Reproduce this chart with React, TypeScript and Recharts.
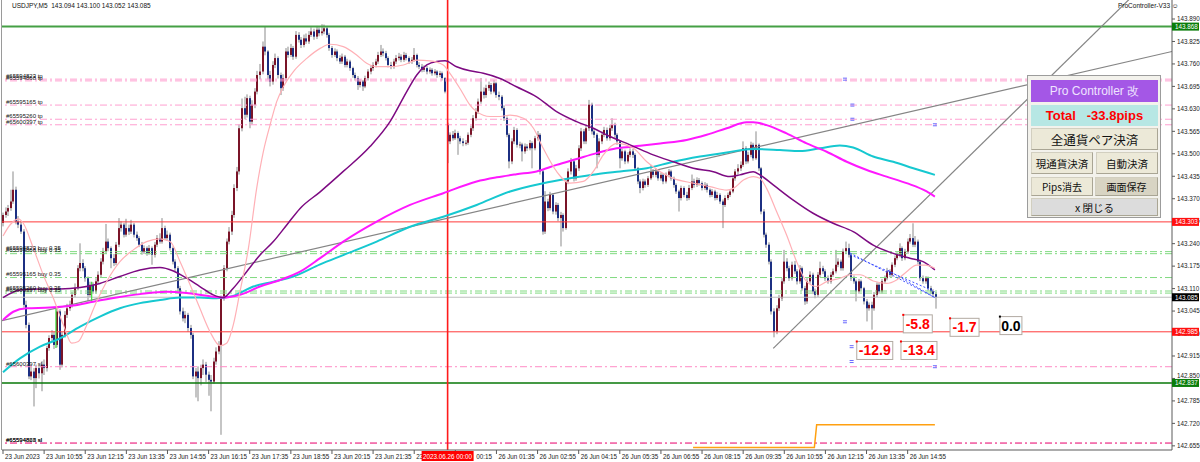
import React from "react";
import {
  ComposedChart,
  Bar,
  Line,
  XAxis,
  YAxis,
  ReferenceLine,
  ReferenceDot,
} from "recharts";

// prices are kept as 0.001 JPY above 142.000; a bar opens at the previous close
const PRICE_BASE = 142;
const fridayOpen = 1300;
const mondayOpen = 1584;

// 23 Jun 09:35 .. 23:55, M5 bars as [high, low, close]
const fridayBars = [
  [1330,1290,1323],[1345,1315,1333],[1352,1320,1343],[1396,1335,1362],[1449,1355,1396],[1405,1296,1304],[1320,1285,1295],[1305,1268,1275],[1282,1055,1063],[1075,995,1005],
  [1012,848,856],[885,845,870],[880,769,851],[890,822,880],[888,850,865],[900,813,890],[905,860,880],[945,870,938],[975,930,967],[990,955,976],
  [985,935,947],[1052,940,1044],[1050,875,890],[985,882,976],[1045,968,1034],[1066,1025,1053],[1075,1045,1063],[1100,1055,1092],[1125,1085,1111],[1178,1105,1169],
  [1241,1160,1184],[1195,1160,1169],[1175,1130,1140],[1145,1073,1092],[1130,1085,1121],[1128,1095,1102],[1140,1096,1131],[1160,1125,1150],[1198,1143,1188],[1228,1180,1217],
  [1297,1210,1246],[1255,1218,1227],[1232,1169,1198],[1210,1175,1184],[1245,1178,1237],[1314,1230,1285],[1305,1275,1295],[1300,1258,1266],[1312,1260,1285],[1295,1265,1275],
  [1309,1268,1295],[1300,1258,1266],[1275,1248,1256],[1262,1230,1237],[1245,1208,1217],[1235,1210,1227],[1232,1205,1213],[1236,1208,1227],[1232,1179,1208],[1245,1200,1237],
  [1265,1230,1256],[1270,1240,1246],[1314,1240,1285],[1292,1250,1256],[1278,1248,1266],[1272,1220,1227],[1232,1180,1188],[1195,1160,1169],[1175,1102,1111],[1118,1035,1044],
  [1055,1015,1024],[1045,1010,1034],[1040,985,996],[1005,965,976],[982,848,856],[880,795,870],[885,784,851],[890,830,880],[905,860,890],[898,840,861],
  [870,800,846],[860,755,841],[910,835,899],[940,890,928],[958,920,947],[1090,687,1082],[1178,1075,1169],[1255,1160,1246],[1288,1238,1275],[1335,1265,1323],
  [1412,1315,1401],[1462,1392,1449],[1585,1440,1574],[1660,1565,1632],[1665,1600,1613],[1672,1605,1661],[1668,1574,1593],[1655,1585,1642],[1690,1632,1680],[1740,1672,1728],
  [1760,1715,1738],[1825,1730,1810],[1867,1785,1796],[1800,1715,1728],[1740,1695,1709],[1768,1700,1757],[1790,1748,1777],[1782,1718,1728],[1735,1670,1690],[1730,1682,1719],
  [1806,1712,1796],[1810,1778,1786],[1818,1780,1806],[1812,1772,1781],[1855,1775,1844],[1852,1822,1830],[1838,1806,1815],[1845,1808,1834],[1848,1818,1825],[1855,1818,1844],
  [1866,1838,1854],[1862,1830,1839],[1870,1832,1859],[1866,1840,1849],[1875,1842,1854],[1874,1846,1863],[1870,1836,1844],[1850,1798,1806],[1812,1778,1786],[1805,1780,1796],
  [1802,1768,1777],[1785,1760,1767],[1790,1760,1781],[1786,1750,1757],[1775,1750,1767],[1772,1740,1748],[1752,1720,1728],[1735,1712,1719],[1725,1685,1699],[1716,1692,1709],
  [1714,1682,1695],[1726,1690,1719],[1745,1712,1738],[1756,1730,1748],[1765,1740,1757],[1775,1750,1767],[1795,1760,1786],[1815,1780,1796],[1805,1782,1791],[1798,1770,1777],
  [1782,1750,1757],[1766,1745,1752],[1775,1746,1767],[1786,1760,1777],[1792,1770,1781],[1788,1765,1772],[1795,1766,1786],[1792,1770,1777],[1782,1760,1767],[1780,1760,1772],
  [1806,1766,1786],[1790,1750,1757],[1765,1745,1752],[1760,1736,1743],[1756,1737,1748],[1754,1730,1738],[1750,1732,1743],[1748,1726,1733],[1745,1727,1738],[1742,1720,1728],
  [1740,1722,1733],[1738,1712,1719],[1722,1675,1680],
];

// 26 Jun 00:00 .. 15:50
const mondayBars = [
  [1590,1473,1536],[1562,1528,1555],[1566,1538,1545],[1570,1540,1560],[1565,1497,1545],[1552,1528,1536],[1545,1522,1531],
  [1540,1524,1532],[1562,1526,1555],[1582,1548,1574],[1612,1566,1603],[1632,1596,1622],[1660,1615,1651],[1719,1645,1680],[1692,1660,1670],[1700,1662,1690],[1709,1682,1699],
  [1705,1672,1680],[1714,1675,1704],[1708,1662,1670],[1680,1655,1665],[1670,1625,1632],[1640,1595,1603],[1608,1548,1555],[1560,1458,1478],[1545,1470,1536],[1578,1528,1569],
  [1574,1518,1526],[1535,1516,1527],[1532,1478,1507],[1530,1500,1521],[1528,1508,1516],[1540,1510,1531],[1536,1458,1516],[1552,1510,1545],[1566,1538,1555],[1560,1440,1449],
  [1455,1266,1275],[1392,1268,1362],[1370,1334,1343],[1390,1336,1381],[1386,1325,1333],[1360,1324,1352],[1358,1305,1314],[1332,1232,1323],[1328,1275,1285],[1428,1280,1420],
  [1458,1412,1449],[1488,1440,1478],[1484,1420,1429],[1468,1422,1458],[1525,1450,1516],[1575,1508,1565],[1572,1528,1536],[1582,1528,1574],[1656,1566,1642],[1648,1556,1565],
  [1575,1546,1555],[1560,1458,1497],[1545,1490,1536],[1565,1528,1555],[1578,1548,1569],[1576,1538,1545],[1584,1538,1574],[1603,1566,1584],[1590,1546,1555],[1560,1526,1536],
  [1540,1458,1487],[1515,1480,1507],[1512,1470,1478],[1505,1472,1497],[1516,1490,1507],[1514,1488,1497],[1502,1450,1458],[1462,1412,1420],[1426,1386,1401],[1428,1394,1420],
  [1426,1402,1410],[1436,1404,1429],[1468,1424,1449],[1456,1432,1439],[1458,1432,1449],[1454,1422,1429],[1446,1422,1439],[1444,1412,1420],[1446,1414,1439],[1456,1432,1449],
  [1454,1422,1429],[1434,1402,1410],[1415,1384,1391],[1396,1333,1372],[1408,1365,1401],[1406,1374,1381],[1390,1364,1372],[1410,1366,1401],[1440,1395,1420],[1428,1402,1410],
  [1432,1404,1424],[1430,1408,1415],[1420,1394,1401],[1418,1395,1410],[1415,1388,1396],[1400,1374,1381],[1398,1375,1391],[1396,1365,1372],[1390,1366,1381],[1386,1355,1362],
  [1368,1285,1352],[1380,1346,1372],[1388,1366,1381],[1398,1375,1391],[1436,1386,1429],[1456,1422,1449],[1470,1440,1458],[1478,1450,1468],[1536,1462,1516],[1522,1470,1478],
  [1506,1472,1497],[1535,1490,1526],[1532,1480,1487],[1565,1482,1526],[1530,1450,1458],[1462,1325,1333],[1340,1258,1266],[1272,1228,1237],[1244,1180,1188],[1195,1035,1044],
  [1053,969,986],[1062,978,1053],[1092,1045,1082],[1140,1074,1131],[1222,1124,1188],[1198,1160,1169],[1176,1132,1140],[1188,1133,1179],[1190,1152,1160],[1166,1122,1131],
  [1178,1124,1169],[1174,1104,1111],[1118,1063,1073],[1140,1066,1131],[1160,1124,1150],[1156,1094,1102],[1110,1082,1092],[1158,1086,1150],[1188,1142,1169],[1176,1152,1160],
  [1166,1132,1140],[1148,1124,1131],[1158,1124,1150],[1168,1144,1160],[1222,1154,1179],[1198,1172,1188],[1194,1162,1169],[1226,1162,1217],[1246,1210,1227],[1240,1200,1208],
  [1212,1132,1140],[1148,1124,1131],[1136,1073,1102],[1138,1095,1131],[1136,1104,1111],[1115,1064,1073],[1080,1015,1053],[1070,1046,1063],[1072,991,1053],[1100,1046,1092],
  [1128,1085,1121],[1126,1095,1102],[1138,1096,1131],[1148,1124,1140],[1170,1134,1160],[1166,1143,1150],[1186,1144,1179],[1206,1172,1198],[1215,1192,1208],[1241,1200,1227],
  [1232,1190,1198],[1225,1192,1217],[1255,1210,1246],[1268,1240,1256],[1299,1230,1237],[1262,1230,1246],[1252,1180,1188],[1194,1132,1140],[1148,1124,1131],[1146,1124,1140],
  [1145,1104,1111],[1118,1095,1102],[1108,1086,1094],[1100,1052,1085],
];

const xTickLabels = [
  "23 Jun 2023", "23 Jun 10:55", "23 Jun 12:15", "23 Jun 13:35", "23 Jun 14:55", "23 Jun 16:15",
  "23 Jun 17:35", "23 Jun 18:55", "23 Jun 20:15", "23 Jun 21:35", "23 Jun 22:55", "26 Jun 00:15",
  "26 Jun 01:35", "26 Jun 02:55", "26 Jun 04:15", "26 Jun 05:35", "26 Jun 06:55", "26 Jun 08:15",
  "26 Jun 09:35", "26 Jun 10:55", "26 Jun 12:15", "26 Jun 13:35", "26 Jun 14:55",
];
const separatorLabel = "2023.06.26 00:00";

const yTicks = [
  143.89, 143.825, 143.76, 143.695, 143.63, 143.565, 143.5, 143.435, 143.37, 143.305,
  143.24, 143.175, 143.11, 143.045, 142.98, 142.915, 142.85, 142.785, 142.72, 142.655,
];

const dayHigh = 143.868;
const dayLow = 142.837;
const redLevels = [143.303, 142.985];
const bidPrice = 143.085;

const tpLevels = [
  { price: 143.716, name: "#65594823 tp" },
  { price: 143.711, name: "#65594868 tp" },
  { price: 143.641, name: "#65595165 tp" },
  { price: 143.6, name: "#65595260 tp" },
  { price: 143.584, name: "#65600397 tp" },
];
const buyLevels = [
  { price: 143.217, name: "#65594823 buy 0.35" },
  { price: 143.211, name: "#65594868 buy 0.35" },
  { price: 143.142, name: "#65595165 buy 0.35" },
  { price: 143.103, name: "#65595260 buy 0.35" },
  { price: 143.097, name: "#65600397 buy 0.35" },
];
const slLevels = [
  { price: 142.884, name: "#65600397 sl" },
  { price: 142.664, name: "#65594868 sl" },
  { price: 142.662, name: "#65594823 sl" },
];

// moving averages: [bar, price]
const pinkMa = [
  [0,143.262],[2.7,143.294],[6,143.312],[7.9,143.299],[11.8,143.227],[15.7,143.149],[19.6,143.082],[23.5,143.005],[26.7,142.952],[29.3,142.957],
  [32.6,143.005],[36.4,143.072],[40.3,143.13],[45.5,143.188],[50.7,143.222],[55.9,143.246],[61.1,143.254],[65,143.246],[68.9,143.188],[72.8,143.121],
  [76.6,143.053],[80.5,142.986],[84.4,142.945],[87,142.952],[89.6,143.005],[92.2,143.101],[95.5,143.227],[98.7,143.4],[101.3,143.506],[103.9,143.583],
  [106.5,143.651],[109.1,143.694],[113,143.738],[118.2,143.776],[123.4,143.805],[127.2,143.817],[132.4,143.81],[137.6,143.786],[141.5,143.762],[145.4,143.752],
  [150.6,143.752],[155.8,143.757],[161,143.771],[166.2,143.769],[171.3,143.757],[173.9,143.733],[177.8,143.689],[181.7,143.641],[184.3,143.622],[189.5,143.608],
  [193.4,143.608],[197.3,143.612],[202.5,143.603],[206.4,143.574],[210.2,143.516],[215.4,143.449],[220.6,143.415],[225.8,143.42],[229.7,143.449],[233.6,143.497],
  [238.8,143.53],[245.3,143.516],[250.5,143.477],[255.6,143.449],[260.8,143.429],[268.6,143.415],[275.1,143.405],[281.6,143.395],[284.2,143.4],[288.1,143.424],
  [292,143.434],[294.5,143.429],[297.1,143.4],[301,143.333],[304.9,143.265],[308.8,143.188],[312.7,143.13],[316.6,143.116],[320.5,143.13],[325.7,143.14],
  [329.6,143.15],[333.5,143.15],[338.6,143.132],[343.8,143.125],[347.7,143.135],[351.6,143.159],[355.5,143.178],[358.8,143.178],[362.6,143.169],
];
const purpleMa = [
  [0,143.084],[6.6,143.106],[14.4,143.109],[22.2,143.109],[30,143.113],[37.7,143.125],[45.5,143.145],[53.3,143.164],[61.1,143.171],[66.3,143.161],
  [71.5,143.14],[76.6,143.116],[81.8,143.092],[85.7,143.084],[89.6,143.111],[94.8,143.159],[100,143.207],[105.2,143.246],[110.4,143.294],[115.6,143.342],
  [123.4,143.39],[132.4,143.449],[142.8,143.521],[150.6,143.593],[157.1,143.68],[161,143.728],[164.9,143.757],[168.7,143.767],[172,143.769],[176.5,143.752],
  [181.7,143.74],[186.9,143.733],[193.4,143.718],[199.8,143.694],[207.6,143.665],[215.4,143.622],[223.2,143.593],[229.7,143.574],[236.2,143.55],[244,143.526],
  [253,143.497],[260.8,143.477],[268.6,143.458],[276.4,143.448],[282.8,143.434],[286.7,143.439],[291.9,143.448],[294.5,143.439],[299.7,143.41],[307.5,143.366],
  [315.2,143.328],[323,143.299],[330.8,143.275],[338.6,143.236],[346.4,143.212],[352.9,143.198],[358,143.188],[362.6,143.164],
];
const magentaMa = [
  [0,143.019],[4,143.043],[9.2,143.053],[18.3,143.055],[27.4,143.061],[35.1,143.072],[44.2,143.084],[53.3,143.094],[63.7,143.101],[71.5,143.097],
  [79.2,143.089],[85.7,143.084],[92.2,143.092],[100,143.116],[107.8,143.135],[115.6,143.159],[123.4,143.198],[132.4,143.246],[145.4,143.304],[158.4,143.352],
  [171.3,143.386],[184.3,143.42],[192.1,143.432],[199.8,143.441],[207.6,143.449],[215.4,143.468],[223.2,143.485],[231,143.502],[238.8,143.516],[247.9,143.523],
  [255.7,143.53],[266,143.54],[273.8,143.555],[281.6,143.574],[289.4,143.591],[291.9,143.591],[297.1,143.583],[304.9,143.559],[312.7,143.53],[320.5,143.506],
  [328.3,143.477],[336.1,143.453],[343.8,143.434],[351.6,143.415],[359.4,143.391],[362.6,143.376],
];
const cyanMa = [
  [0,142.868],[6.6,142.908],[14.4,142.942],[22.2,142.966],[30,143],[37.7,143.029],[45.5,143.053],[53.3,143.068],[61.1,143.077],[68.9,143.084],
  [76.6,143.084],[83.1,143.082],[89.6,143.089],[97.4,143.116],[105.2,143.13],[113,143.145],[123.4,143.18],[132.4,143.207],[145.4,143.246],[158.4,143.289],
  [171.3,143.318],[184.3,143.352],[197.3,143.391],[210.2,143.415],[220.6,143.429],[231,143.441],[240.1,143.449],[250.5,143.458],[260.8,143.477],[271.2,143.492],
  [281.6,143.504],[291.9,143.514],[302.3,143.511],[310.1,143.508],[317.8,143.516],[325.6,143.524],[330.8,143.518],[338.6,143.492],[346.4,143.477],[354.2,143.458],
  [362.6,143.439],
];
const orangeSteps = [[268.5,142.65],[315.7,142.65],[316.6,142.716],[362.6,142.716]];

const longTrend = [[-1.17,143.016],[454.86,143.796]];
const steepTrend = [[299.7,142.937],[440,143.96]];
const blueTradeLines = [
  [[329.6,143.213],[362.6,143.084]],
  [[329.6,143.208],[362.6,143.101]],
  [[344.4,143.163],[362.6,143.084]],
];
const greenTradeLines = [
  [[20.6,143.051],[20.6,142.938]],
  [[34.5,143.13],[34.5,143.072]],
];
const tradeMarks = [
  [327.6,143.716],[330.5,143.641],[330.5,143.6],[362.6,143.584],
  [327.6,143.014],[330.2,142.942],[330.2,142.899],[362.6,142.884],
];
const pipsNotes = [
  { i: 350.3, price: 143.034, pips: -5.8 },
  { i: 368.5, price: 143.024, pips: -1.7 },
  { i: 387.9, price: 143.029, pips: 0.0 },
  { i: 332.2, price: 142.957, pips: -12.9 },
  { i: 349.4, price: 142.957, pips: -13.4 },
];

const X_DOMAIN = [-0.39, 454.86];
const Y_DOMAIN = [142.643, 143.945];
const FONT = "'Liberation Sans', Arial, sans-serif";
const JP = "'Noto Sans CJK JP', 'Liberation Sans', sans-serif";
const AXIS = "#5a5a5a";

const toPrice = (v: number) => Math.round(PRICE_BASE * 1000 + v) / 1000;
const allBars = [...fridayBars, ...mondayBars];
const SEPARATOR = fridayBars.length;
const candles = allBars.map(([h, l, c], i) => {
  const o = i === 0 ? fridayOpen : i === SEPARATOR ? mondayOpen : allBars[i - 1][2];
  return { i, o: toPrice(o), h: toPrice(h), l: toPrice(l), c: toPrice(c), range: [toPrice(l), toPrice(h)] };
});
const last = candles[candles.length - 1];
const pts = (arr: number[][]) => arr.map(([i, v]) => ({ i, v }));
const seg = (s: number[][]) => s.map(([x, y]) => ({ x, y }));
const xTicks = [...xTickLabels.map((_, k) => k * 16), SEPARATOR];
const boxLevels = [dayHigh, ...redLevels, bidPrice, dayLow];
const totalPips = pipsNotes.reduce((s, n) => s + n.pips, 0);

function Candle(props: any) {
  const { x, y, width, height } = props;
  const d = props.payload ?? props;
  if (x == null || y == null || d.h == null) return null;
  const top = Math.min(y, y + height);
  const span = d.h - d.l;
  const k = span > 0 ? Math.abs(height) / span : 0;
  const py = (v: number) => top + (d.h - v) * k;
  const cx = Math.round(x + width / 2);
  const bTop = py(Math.max(d.o, d.c));
  const bH = Math.max(1, py(Math.min(d.o, d.c)) - bTop);
  return (
    <g>
      <rect x={cx - 0.5} y={top} width={1} height={Math.max(1, Math.abs(height))} fill="#8c8c8c" />
      <rect x={cx - 1} y={bTop} width={2} height={bH} fill={d.c >= d.o ? "#7a1428" : "#1c2f82"} />
    </g>
  );
}

// the separator box hides the middle of the two neighbouring labels
function visiblePart(v: number, label: string) {
  if (v === SEPARATOR - 13) return { text: label.slice(0, 2), dx: 0 };
  if (v === SEPARATOR + 3) return { text: label.slice(7), dx: 19 };
  return { text: label, dx: 0 };
}

function XTick(props: any) {
  const { x, y, payload } = props;
  const v = payload.value;
  if (v === SEPARATOR) {
    return (
      <g>
        <rect x={x - 26} y={y + 1} width={52} height={10} fill="#ff0000" />
        <text x={x} y={y + 8.5} textAnchor="middle" fontSize={6.3} fill="#fff" fontFamily={FONT}>
          {separatorLabel}
        </text>
      </g>
    );
  }
  const part = visiblePart(v, xTickLabels[v / 16]);
  return (
    <g>
      <line x1={x} y1={y} x2={x} y2={y + 4} stroke={AXIS} />
      <text x={x + 2 + part.dx} y={y + 8.5} fontSize={6.3} fill="#222" fontFamily={FONT}>
        {part.text}
      </text>
    </g>
  );
}

function YTick(props: any) {
  const { x, y, payload } = props;
  const v = payload.value;
  if (boxLevels.includes(v)) {
    const bg = v === bidPrice ? "#000" : v === dayHigh || v === dayLow ? "#0a7d0a" : "#ff1010";
    return (
      <g>
        <rect x={x} y={y - 4} width={27} height={8} fill={bg} />
        <text x={x + 3} y={y + 2.3} fontSize={6.3} fill="#fff" fontFamily={FONT}>{v.toFixed(3)}</text>
      </g>
    );
  }
  // a label that sits partly under a price box is nudged clear of it
  const near = boxLevels.find((b) => Math.abs(b - v) < 0.02 && Math.abs(b - v) > 0.006);
  const dy = near == null ? 0 : near < v ? -2.5 : 2.5;
  return (
    <g>
      <line x1={x} y1={y} x2={x + 3} y2={y} stroke={AXIS} />
      <text x={x + 5} y={y + 2.3 + dy} fontSize={6.3} fill="#222" fontFamily={FONT}>{v.toFixed(3)}</text>
    </g>
  );
}

const LevelName = (name: string) => (p: any) => (
  <text x={p.cx + 4} y={p.cy - 1.2} fontSize={6} fill="#111" fontFamily={FONT}>{name}</text>
);

const PipsBox = (pips: number) => (p: any) => {
  const text = pips.toFixed(1);
  const w = text.length * 7 + 1;
  const color = pips < 0 ? "#ff0000" : "#000";
  return (
    <g>
      <rect x={p.cx} y={p.cy} width={w} height={18} fill="#fff" stroke="#b2aaa2" />
      <rect x={p.cx - 1} y={p.cy - 1} width={2} height={2} fill={color} />
      <text x={p.cx + w / 2} y={p.cy + 14} textAnchor="middle" fontSize={14} fontWeight="bold" fill={color} fontFamily={FONT}>
        {text}
      </text>
    </g>
  );
};

const TradeMark = (p: any) => (
  <g>
    <rect x={p.cx - 2} y={p.cy - 1.5} width={4} height={1} fill="#6a6aff" />
    <rect x={p.cx - 2} y={p.cy + 0.5} width={4} height={1} fill="#6a6aff" />
  </g>
);

const btn = (extra: React.CSSProperties): React.CSSProperties => ({
  position: "absolute",
  boxSizing: "border-box",
  display: "flex",
  alignItems: "center",
  justifyContent: "center",
  fontFamily: JP,
  color: "#111",
  background: "#ece9d8",
  border: "1px solid #d2cfc0",
  borderRightColor: "#a9a594",
  borderBottomColor: "#a9a594",
  whiteSpace: "pre",
  ...extra,
});

function Panel() {
  return (
    <div
      style={{
        position: "absolute",
        left: 1027,
        top: 75,
        width: 134,
        height: 143,
        boxSizing: "border-box",
        background: "#f3f2ec",
        border: "1px solid #9c9c9c",
      }}
    >
      <div style={btn({ left: 3, top: 4, width: 127, height: 22, background: "#a457e6", border: "none", color: "#efe4ff", fontSize: 12, fontFamily: FONT })}>
        Pro Controller 改
      </div>
      <div style={btn({ left: 3, top: 29, width: 127, height: 21, background: "#b7e7e4", border: "none", color: "#ff0000", fontSize: 13, fontWeight: "bold", fontFamily: FONT })}>
        {`Total   ${totalPips.toFixed(1)}pips`}
      </div>
      <div style={btn({ left: 3, top: 52, width: 127, height: 22, fontSize: 12.5 })}>全通貨ペア決済</div>
      <div style={btn({ left: 3, top: 76, width: 62, height: 22, fontSize: 10.5 })}>現通貨決済</div>
      <div style={btn({ left: 68, top: 76, width: 62, height: 22, fontSize: 10.5 })}>自動決済</div>
      <div style={btn({ left: 3, top: 101, width: 62, height: 19, fontSize: 10 })}>Pips消去</div>
      <div style={btn({ left: 67, top: 101, width: 63, height: 19, fontSize: 10, background: "#d8d4c3" })}>画面保存</div>
      <div style={btn({ left: 3, top: 122, width: 127, height: 18, fontSize: 10.5, background: "#dcdcdc" })}>x 閉じる</div>
    </div>
  );
}

export default function App() {
  return (
    <div style={{ position: "absolute", left: 0, top: 0, width: 1200, height: 462, background: "#fff", overflow: "hidden" }}>
      <ComposedChart width={1200} height={462} data={candles} margin={{ top: 0, right: 0, bottom: 0, left: 2 }}>
        <XAxis
          type="number"
          dataKey="i"
          domain={X_DOMAIN}
          allowDataOverflow
          ticks={xTicks}
          interval={0}
          tick={<XTick />}
          tickLine={false}
          tickSize={0}
          tickMargin={0}
          height={12}
          axisLine={{ stroke: AXIS }}
        />
        <YAxis
          orientation="right"
          type="number"
          domain={Y_DOMAIN}
          allowDataOverflow
          ticks={[...yTicks, ...boxLevels]}
          interval={0}
          tick={<YTick />}
          tickLine={false}
          tickSize={0}
          tickMargin={0}
          width={28}
          axisLine={{ stroke: AXIS }}
        />

        {tpLevels.map((lv) => (
          <ReferenceLine key={"tp" + lv.name} y={lv.price} stroke="#ff9fd0" strokeDasharray="7 3 2 3" />
        ))}
        {buyLevels.map((lv) => (
          <ReferenceLine key={"buy" + lv.name} y={lv.price} stroke="#80da80" strokeDasharray="7 3 2 3" />
        ))}
        {slLevels.map((lv, k) => (
          <ReferenceLine key={"sl" + lv.name} y={lv.price} stroke={k === 0 ? "#ff8cc6" : "#f26aa9"} strokeDasharray="7 3 2 3" />
        ))}
        <ReferenceLine y={bidPrice} stroke="#bdbdbd" />
        <ReferenceLine y={dayHigh} stroke="#45a045" strokeWidth={2} />
        <ReferenceLine y={dayLow} stroke="#077707" strokeWidth={1.5} />
        {redLevels.map((p) => (
          <ReferenceLine key={"red" + p} y={p} stroke="#ff3a3a" />
        ))}
        <ReferenceLine x={SEPARATOR} stroke="#ff1a1a" strokeWidth={1.6} />
        <ReferenceLine segment={seg(longTrend)} stroke="#858585" strokeWidth={1.2} ifOverflow="hidden" />
        <ReferenceLine segment={seg(steepTrend)} stroke="#858585" strokeWidth={1.2} ifOverflow="hidden" />
        {greenTradeLines.map((s, k) => (
          <ReferenceLine key={"g" + k} segment={seg(s)} stroke="#3ee03e" strokeWidth={1.2} />
        ))}

        <Bar dataKey="range" shape={<Candle />} barSize={2} isAnimationActive={false} />

        <Line data={pts(cyanMa)} dataKey="v" type="monotone" stroke="#16c8d0" strokeWidth={2} dot={false} activeDot={false} isAnimationActive={false} />
        <Line data={pts(magentaMa)} dataKey="v" type="monotone" stroke="#ff18ff" strokeWidth={2} dot={false} activeDot={false} isAnimationActive={false} />
        <Line data={pts(purpleMa)} dataKey="v" type="monotone" stroke="#7d0a82" strokeWidth={1.5} dot={false} activeDot={false} isAnimationActive={false} />
        <Line data={pts(pinkMa)} dataKey="v" type="monotone" stroke="#ffb0b6" strokeWidth={1.2} dot={false} activeDot={false} isAnimationActive={false} />
        <Line data={pts(orangeSteps)} dataKey="v" type="linear" stroke="#ffa010" strokeWidth={1.5} dot={false} activeDot={false} isAnimationActive={false} />

        {blueTradeLines.map((s, k) => (
          <ReferenceLine key={"b" + k} segment={seg(s)} stroke="#3a4cff" strokeDasharray="2 2" />
        ))}
        {tradeMarks.map(([i, p], k) => (
          <ReferenceDot key={"m" + k} x={i} y={p} r={2} shape={TradeMark} ifOverflow="visible" />
        ))}
        {[...tpLevels, ...buyLevels, ...slLevels].map((lv) => (
          <ReferenceDot key={"n" + lv.name + lv.price} x={X_DOMAIN[0]} y={lv.price} r={1} shape={LevelName(lv.name)} ifOverflow="visible" />
        ))}
        {pipsNotes.map((n, k) => (
          <ReferenceDot key={"p" + k} x={n.i} y={n.price} r={1} shape={PipsBox(n.pips)} ifOverflow="visible" />
        ))}
      </ComposedChart>

      <div style={{ position: "absolute", left: 1, top: 0, width: 1, height: 450, background: "#9a9a9a" }} />
      <div style={{ position: "absolute", left: 12, top: 2, fontSize: 6.5, fontFamily: FONT, whiteSpace: "pre", color: "#111" }}>
        {`USDJPY,M5  ${last.o.toFixed(3)} ${last.h.toFixed(3)} ${last.l.toFixed(3)} ${last.c.toFixed(3)}`}
      </div>
      <div style={{ position: "absolute", left: 1118, top: 2, fontSize: 6.5, fontFamily: FONT, whiteSpace: "pre", color: "#111" }}>
        ProController-V33 ☺
      </div>
      <Panel />
    </div>
  );
}
